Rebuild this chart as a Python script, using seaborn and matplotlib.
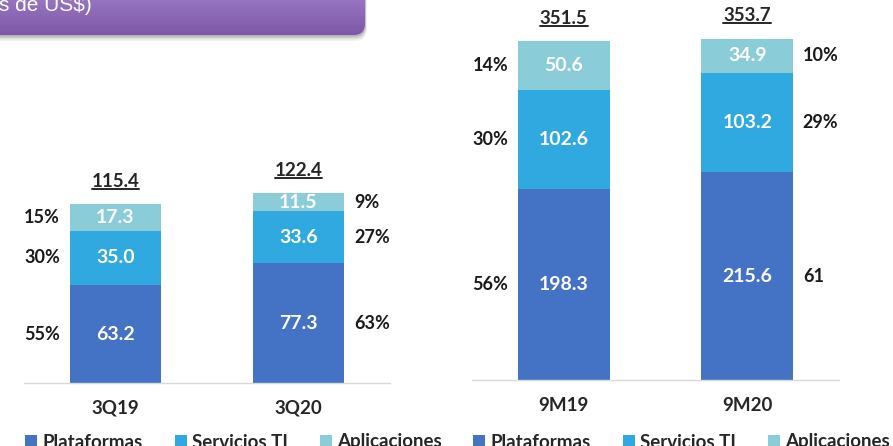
import numpy as np
import pandas as pd
import matplotlib
matplotlib.use("Agg")
import matplotlib.pyplot as plt
import seaborn as sns
from matplotlib.patches import FancyBboxPatch, Patch
from matplotlib.lines import Line2D

# ---------------- data ----------------
categories_q = ["3Q19", "3Q20"]
plataformas_q = [63.2, 77.3]
servicios_q = [35.0, 33.6]
aplicaciones_q = [17.3, 11.5]
totals_q = ["115.4", "122.4"]
pct_q = [["55%", "30%", "15%"], ["63%", "27%", "9%"]]

categories_m = ["9M19", "9M20"]
plataformas_m = [198.3, 215.6]
servicios_m = [102.6, 103.2]
aplicaciones_m = [50.6, 34.9]
totals_m = ["351.5", "353.7"]
pct_m = [["56%", "30%", "14%"], ["61", "29%", "10%"]]

series_names = ["Plataformas", "Servicios TI", "Aplicaciones"]
header_text = "s de US$)"

# ---------------- style ----------------
sns.set_theme(style="white")
plt.rcParams["font.family"] = ["Lato", "DejaVu Sans"]
colors = ["#4472C4", "#30A8E0", "#8ACDD9"]

W, H = 893, 446
fig = plt.figure(figsize=(W / 100, H / 100), dpi=100)
fig.patch.set_facecolor("white")


def px_axes(x0, top, x1, bottom):
    return fig.add_axes([x0 / W, (H - bottom) / H, (x1 - x0) / W, (bottom - top) / H])


def draw_panel(ax, cats, plat, serv, apl, totals, pcts, ymax):
    df = pd.DataFrame({"cat": cats, "Plataformas": plat,
                       "Servicios TI": serv, "Aplicaciones": apl})
    bottom = np.zeros(len(cats))
    for name, col in zip(series_names, colors):
        sns.barplot(data=df, x="cat", y=name, bottom=bottom, color=col,
                    saturation=1, width=0.5, linewidth=0, ax=ax)
        vals = df[name].to_numpy()
        for i, v in enumerate(vals):
            ax.text(i, bottom[i] + v / 2, f"{v:.1f}", ha="center", va="center",
                    color="white", fontsize=14, fontweight="bold")
        bottom = bottom + vals
    # percentage labels
    segs = [np.array(plat), np.array(serv), np.array(apl)]
    for i in range(len(cats)):
        b = 0
        for k, s in enumerate(segs):
            yc = b + s[i] / 2
            if i == 0:
                ax.annotate(pcts[i][k], (i - 0.25, yc), xytext=(-7, 0),
                            textcoords="offset points", ha="right", va="center",
                            fontsize=13, fontweight="bold", color="#1a1a1a")
            else:
                ax.annotate(pcts[i][k], (i + 0.25, yc), xytext=(7, 0),
                            textcoords="offset points", ha="left", va="center",
                            fontsize=13, fontweight="bold", color="#1a1a1a")
            b += s[i]
    tot_texts = []
    for i in range(len(cats)):
        t = ax.annotate(totals[i], (i, bottom[i]), xytext=(0, 16.5),
                        textcoords="offset points", ha="center", va="center",
                        fontsize=13.5, fontweight="bold", color="#262626")
        tot_texts.append(t)
    ax.set_xlim(-0.5, 1.5)
    ax.set_ylim(0, ymax)
    ax.set_xlabel("")
    ax.set_ylabel("")
    ax.set_yticks([])
    ax.set_xticks(range(len(cats)))
    ax.set_xticklabels(cats, fontsize=13.5, fontweight="bold", color="#262626")
    ax.tick_params(axis="x", length=0, pad=12)
    for s in ["top", "left", "right"]:
        ax.spines[s].set_visible(False)
    ax.spines["bottom"].set_color("#D9D9D9")
    ax.spines["bottom"].set_linewidth(1.0)
    ax.patch.set_alpha(0)
    return tot_texts


ax1 = px_axes(24, 150, 390, 383)
t1 = draw_panel(ax1, categories_q, plataformas_q, servicios_q, aplicaciones_q,
                totals_q, pct_q, 233 / 1.55)
ax2 = px_axes(472, 10, 839, 380)
t2 = draw_panel(ax2, categories_m, plataformas_m, servicios_m, aplicaciones_m,
                totals_m, pct_m, 370 / 0.9645)

# legends
handles = [Patch(facecolor=c, edgecolor="none") for c in colors]
for x0 in (25, 473):
    fig.legend(handles, series_names, loc="center left",
               bbox_to_anchor=(x0 / W, (H - 442) / H), ncol=3, frameon=False,
               prop={"family": ["Lato", "DejaVu Sans"], "weight": "bold", "size": 13.5},
               handlelength=0.65, handleheight=0.65, handletextpad=0.28,
               columnspacing=1.7, borderpad=0, borderaxespad=0,
               labelcolor="#262626")

# header box
hax = px_axes(0, 0, 380, 48)
hax.set_xlim(0, 380)
hax.set_ylim(0, 48)
hax.axis("off")
for k, a in enumerate([0.05, 0.07, 0.09, 0.11]):
    off = 6 - k * 1.5
    sh = FancyBboxPatch((-30 + off * 0.3, 13 - off), 395, 60,
                        boxstyle="round,pad=0,rounding_size=12",
                        facecolor="black", edgecolor="none", alpha=a)
    hax.add_patch(sh)
box = FancyBboxPatch((-30, 13), 395, 60, boxstyle="round,pad=0,rounding_size=12",
                     facecolor="#8A64B4", edgecolor="none")
hax.add_patch(box)
top_c = np.array([150, 116, 192]) / 255
bot_c = np.array([126, 88, 168]) / 255
tt = np.linspace(0, 1, 64)[:, None]
grad = (top_c[None, :] * (1 - tt) + bot_c[None, :] * tt)[:, None, :]
im = hax.imshow(grad, extent=(-30, 365, 13, 48), aspect="auto", zorder=3,
                interpolation="bilinear")
im.set_clip_path(box)
hax.text(-1, 48 - 11, header_text, ha="left", va="baseline", color="white",
         fontsize=15, family=["Liberation Sans", "DejaVu Sans"], zorder=4)

# underline totals
fig.canvas.draw()
r = fig.canvas.get_renderer()
for t in t1 + t2:
    bb = t.get_window_extent(r)
    fig.add_artist(Line2D([bb.x0, bb.x1], [bb.y0 + 1.0, bb.y0 + 1.0],
                          transform=None, color="#262626", linewidth=1.4))

fig.savefig("out.png", dpi=100)
